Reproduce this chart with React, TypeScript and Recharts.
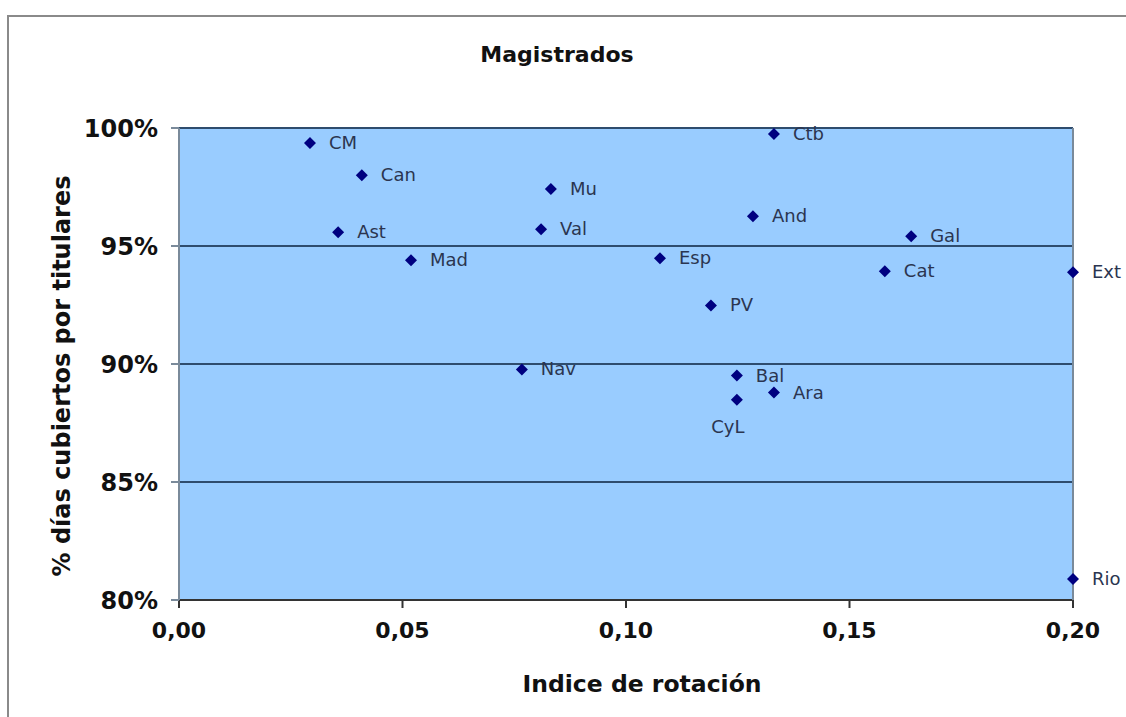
import { ScatterChart, Scatter, XAxis, YAxis, CartesianGrid } from "recharts";

const regions = ["CM", "Can", "Ast", "Mad", "Mu", "Val", "Nav", "Esp", "PV", "Ctb", "And", "Bal", "CyL", "Ara", "Gal", "Cat", "Ext", "Rio"];
const rotation = [0.0293, 0.0409, 0.0356, 0.0519, 0.0832, 0.081, 0.0767, 0.1076, 0.119, 0.1331, 0.1284, 0.1248, 0.1248, 0.1331, 0.1638, 0.1579, 0.2, 0.2];
const coverage = [99.36, 98.0, 95.58, 94.4, 97.41, 95.71, 89.77, 94.48, 92.48, 99.75, 96.26, 89.51, 88.49, 88.79, 95.41, 93.93, 93.89, 80.89];
const xTicks = [0, 0.05, 0.1, 0.15, 0.2];
const yTicks = [80, 85, 90, 95, 100];

const data = regions.map((name, i) => ({ name, x: rotation[i], y: coverage[i] }));

const font = "Verdana, 'DejaVu Sans', sans-serif";

function Point(props: any) {
  const { cx, cy, payload } = props;
  const below = payload.name === "CyL";
  return (
    <g>
      <polygon
        points={`${cx},${cy - 6} ${cx + 6},${cy} ${cx},${cy + 6} ${cx - 6},${cy}`}
        fill="#000080"
      />
      <text
        x={below ? cx - 9 : cx + 19}
        y={below ? cy + 33 : cy + 6}
        textAnchor={below ? "middle" : "start"}
        fontSize={18}
        fontFamily={font}
        fill="#2b3550"
      >
        {payload.name}
      </text>
    </g>
  );
}

export default function App() {
  return (
    <div style={{ position: "absolute", left: 0, top: 0, width: 1126, height: 717, background: "#fff", overflow: "hidden", fontFamily: font }}>
      <div style={{ position: "absolute", left: 7, top: 15, width: 1130, height: 720, border: "2px solid #8a8a8a" }} />
      <div style={{ position: "absolute", left: 0, width: 1114, top: 42, textAlign: "center", fontSize: 22, fontWeight: "bold", color: "#111" }}>
        Magistrados
      </div>
      <div style={{ position: "absolute", left: 0, width: 1284, top: 670, textAlign: "center", fontSize: 23.5, fontWeight: "bold", color: "#111" }}>
        Indice de rotación
      </div>
      <div
        style={{
          position: "absolute",
          left: 62,
          top: 376,
          transform: "translate(-50%, -50%) rotate(-90deg)",
          whiteSpace: "nowrap",
          fontSize: 24,
          fontWeight: "bold",
          color: "#111",
        }}
      >
        % días cubiertos por titulares
      </div>
      <div style={{ position: "absolute", left: 0, top: 0 }}>
        <ScatterChart width={1126} height={717} margin={{ top: 128, right: 0, bottom: 57, left: 0 }}>
          <CartesianGrid horizontal vertical={false} stroke="#2e4c6e" strokeWidth={2} fill="#99ccff" fillOpacity={1} />
          <XAxis
            type="number"
            dataKey="x"
            domain={[0, 0.2]}
            ticks={xTicks}
            height={60}
            tickSize={8}
            tickMargin={14}
            stroke="#333"
            strokeWidth={2}
            tickFormatter={(v: number) => v.toFixed(2).replace(".", ",")}
            tick={{ fontSize: 22, fontWeight: "bold", fill: "#111", fontFamily: font }}
          />
          <YAxis
            type="number"
            dataKey="y"
            domain={[80, 100]}
            ticks={yTicks}
            width={179}
            tickSize={8}
            tickMargin={13}
            stroke="#7a8a9a"
            strokeWidth={2}
            tickFormatter={(v: number) => `${v}%`}
            tick={{ fontSize: 24, fontWeight: "bold", fill: "#111", fontFamily: font }}
          />
          <YAxis yAxisId="right" orientation="right" width={53} tick={false} axisLine={{ stroke: "#7a8a9a", strokeWidth: 2 }} tickLine={false} />
          <Scatter data={data} shape={Point} isAnimationActive={false} />
        </ScatterChart>
      </div>
    </div>
  );
}
